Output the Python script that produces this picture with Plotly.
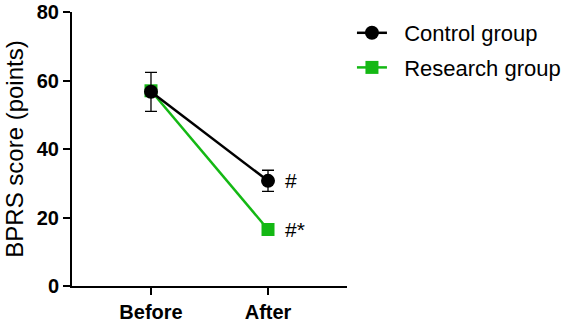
import plotly.graph_objects as go

categories = ["Before", "After"]
control_mean = [56.7, 30.7]
control_err = [5.7, 3.1]
research_mean = [57.0, 16.5]
research_err = [0.8, 0.8]
control_marks = ["", "#"]
research_marks = ["", "#*"]
y_ticks = [0, 20, 40, 60, 80]

FONT = "Liberation Sans, Arial, sans-serif"
GREEN = "#14b814"
PAD = "\u00a0\u00a0"

fig = go.Figure()
fig.add_trace(go.Scatter(
    x=categories, y=research_mean, name=PAD + "Research group", legendgroup="r",
    mode="lines+markers",
    line=dict(color=GREEN, width=2.5),
    marker=dict(symbol="square", size=13, color=GREEN),
    error_y=dict(type="data", array=research_err, color="black", thickness=1.2, width=5),
    legendrank=2,
))
fig.add_trace(go.Scatter(
    x=categories, y=control_mean, name=PAD + "Control group", legendgroup="c",
    mode="lines+markers",
    line=dict(color="black", width=2.5),
    marker=dict(symbol="circle", size=14, color="black"),
    error_y=dict(type="data", array=control_err, color="black", thickness=1.3, width=6),
    legendrank=1,
))

for cat, val, txt in zip(categories, control_mean, control_marks):
    if txt:
        fig.add_annotation(x=cat, y=val, text=txt, showarrow=False, xanchor="left",
                           xshift=15, font=dict(family=FONT, size=21, color="black"))
for cat, val, txt in zip(categories, research_mean, research_marks):
    if txt:
        fig.add_annotation(x=cat, y=val, text=txt, showarrow=False, xanchor="left",
                           xshift=15, font=dict(family=FONT, size=21, color="black"))

fig.update_layout(
    width=567, height=327,
    margin=dict(l=72, r=220, t=12, b=41, autoexpand=False),
    paper_bgcolor="white", plot_bgcolor="white",
    font=dict(family=FONT, color="black"),
    showlegend=True,
    legend=dict(x=1.018, y=1.0, xanchor="left", yanchor="top",
                font=dict(family=FONT, size=22, color="black"),
                tracegroupgap=3, itemwidth=30, bgcolor="rgba(0,0,0,0)"),
    xaxis=dict(
        type="category", range=[-0.675, 1.675], automargin=False,
        showline=True, linecolor="black", linewidth=2,
        ticks="outside", ticklen=7, tickwidth=2, tickcolor="black",
        tickfont=dict(family=FONT, size=20, color="black", weight="bold"),
        showgrid=False, zeroline=False,
    ),
    yaxis=dict(
        range=[0, 80], tickvals=y_ticks, automargin=False,
        showline=True, linecolor="black", linewidth=2,
        ticks="outside", ticklen=7, tickwidth=2, tickcolor="black",
        tickfont=dict(family=FONT, size=20, color="black", weight="bold"),
        title=dict(text="BPRS score (points)", font=dict(family=FONT, size=24, color="black"), standoff=6),
        showgrid=False, zeroline=False,
    ),
)

fig.write_html("out.html")
